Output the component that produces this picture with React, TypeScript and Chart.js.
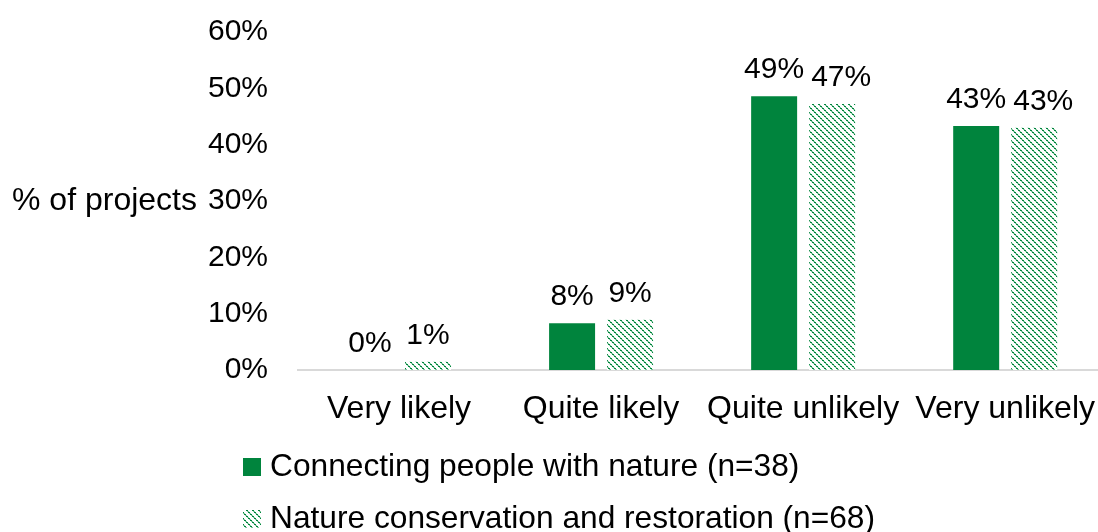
import React, { useEffect, useRef } from "react";
import { Chart, registerables } from "chart.js";

Chart.register(...registerables);

const categories = ["Very likely", "Quite likely", "Quite unlikely", "Very unlikely"];
const seriesNames = ["Connecting people with nature (n=38)", "Nature conservation and restoration (n=68)"];
const peopleValues = [0, 8.3, 48.6, 43.3];
const conservationValues = [1.47, 8.9, 47.2, 43.0];
const peopleLabels = ["0%", "8%", "49%", "43%"];
const conservationLabels = ["1%", "9%", "47%", "43%"];
const yTicks = [0, 10, 20, 30, 40, 50, 60];
const yTitle = "% of projects";

const GREEN = "#00843d";
const LIGHT = "#7cc59a";
const FONT = "'Liberation Sans', Arial, sans-serif";
const FS_X = 32;
const FS_Y = 30;
const FS_LBL = 30;
const FS_LEG = 31.7;

function makePattern(): CanvasPattern | string {
  const c = document.createElement("canvas");
  c.width = 6;
  c.height = 6;
  const g = c.getContext("2d");
  if (!g) return GREEN;
  g.fillStyle = "#ffffff";
  g.fillRect(0, 0, 6, 6);
  for (let i = 0; i < 6; i++) {
    g.fillStyle = i % 2 === 0 ? GREEN : LIGHT;
    g.fillRect(i, i, 1, 1);
    g.fillRect((i + 1) % 6, i, 1, 1);
  }
  const ctx = document.createElement("canvas").getContext("2d");
  return ctx!.createPattern(c, "repeat") || GREEN;
}

export default function App() {
  const ref = useRef<HTMLCanvasElement>(null);
  useEffect(() => {
    document.body.style.margin = "0";
    const pattern = makePattern();
    const labelsPlugin = {
      id: "customDraw",
      afterDatasetsDraw(chart: any) {
        const ctx = chart.ctx;
        ctx.save();
        ctx.font = `${FS_LBL}px ${FONT}`;
        ctx.fillStyle = "#000";
        ctx.textAlign = "center";
        ctx.textBaseline = "alphabetic";
        const m0 = chart.getDatasetMeta(0);
        const m1 = chart.getDatasetMeta(1);
        categories.forEach((_, i) => {
          const b0 = m0.data[i];
          const b1 = m1.data[i];
          const w0 = ctx.measureText(peopleLabels[i]).width;
          const w1 = ctx.measureText(conservationLabels[i]).width;
          const x0 = b0.x;
          const x1 = Math.max(b1.x, x0 + w0 / 2 + 7 + w1 / 2);
          ctx.fillText(peopleLabels[i], x0, b0.y - 18);
          ctx.fillText(conservationLabels[i], x1, b1.y - 18);
        });
        // y axis title
        const ys = chart.scales.y;
        ctx.textAlign = "left";
        ctx.textBaseline = "middle";
        ctx.font = `${FS_X}px ${FONT}`;
        ctx.fillText(yTitle, 12, ys.getPixelForValue(30));
        // legend
        ctx.font = `${FS_LEG}px ${FONT}`;
        const rows = [467, 519];
        rows.forEach((cy, i) => {
          ctx.fillStyle = i === 0 ? GREEN : (pattern as any);
          ctx.fillRect(243, cy - 9, 18, 18);
          ctx.fillStyle = "#000";
          ctx.fillText(seriesNames[i], 270, cy);
        });
        ctx.restore();
      },
    };
    const chart = new Chart(ref.current!, {
      type: "bar",
      data: {
        labels: categories,
        datasets: [
          { label: seriesNames[0], data: peopleValues, backgroundColor: GREEN, categoryPercentage: 0.574, barPercentage: 0.793 },
          { label: seriesNames[1], data: conservationValues, backgroundColor: pattern as any, categoryPercentage: 0.574, barPercentage: 0.793 },
        ],
      },
      options: {
        animation: false,
        responsive: false,
        devicePixelRatio: 1,
        layout: { padding: { top: 32, left: 0, right: 0, bottom: 0 } },
        plugins: { legend: { display: false }, tooltip: { enabled: false } },
        scales: {
          x: {
            grid: { display: false, drawTicks: false },
            border: { display: true, color: "#d9d9d9", width: 2 },
            ticks: { color: "#000", font: { size: FS_X, family: FONT }, padding: 20, maxRotation: 0 },
            afterFit: (s: any) => { s.height = 532 - 370; s.paddingTop = 0; s.paddingBottom = 0; },
          },
          y: {
            min: 0,
            max: 60,
            grid: { display: false, drawTicks: false },
            border: { display: false },
            afterBuildTicks: (s: any) => { s.ticks = yTicks.map((v) => ({ value: v })); },
            ticks: { color: "#000", font: { size: FS_Y, family: FONT }, padding: 30, callback: (v: any) => v + "%" },
            afterFit: (s: any) => { s.width = 298; s.paddingTop = 0; s.paddingBottom = 0; },
          },
        },
      },
      plugins: [labelsPlugin],
    });
    return () => chart.destroy();
  }, []);
  return (
    <div style={{ position: "fixed", left: 0, top: 0, width: 1098, height: 532, overflow: "hidden", background: "#fff" }}>
      <canvas ref={ref} width={1115} height={532} style={{ display: "block", width: 1115, height: 532 }} />
    </div>
  );
}
